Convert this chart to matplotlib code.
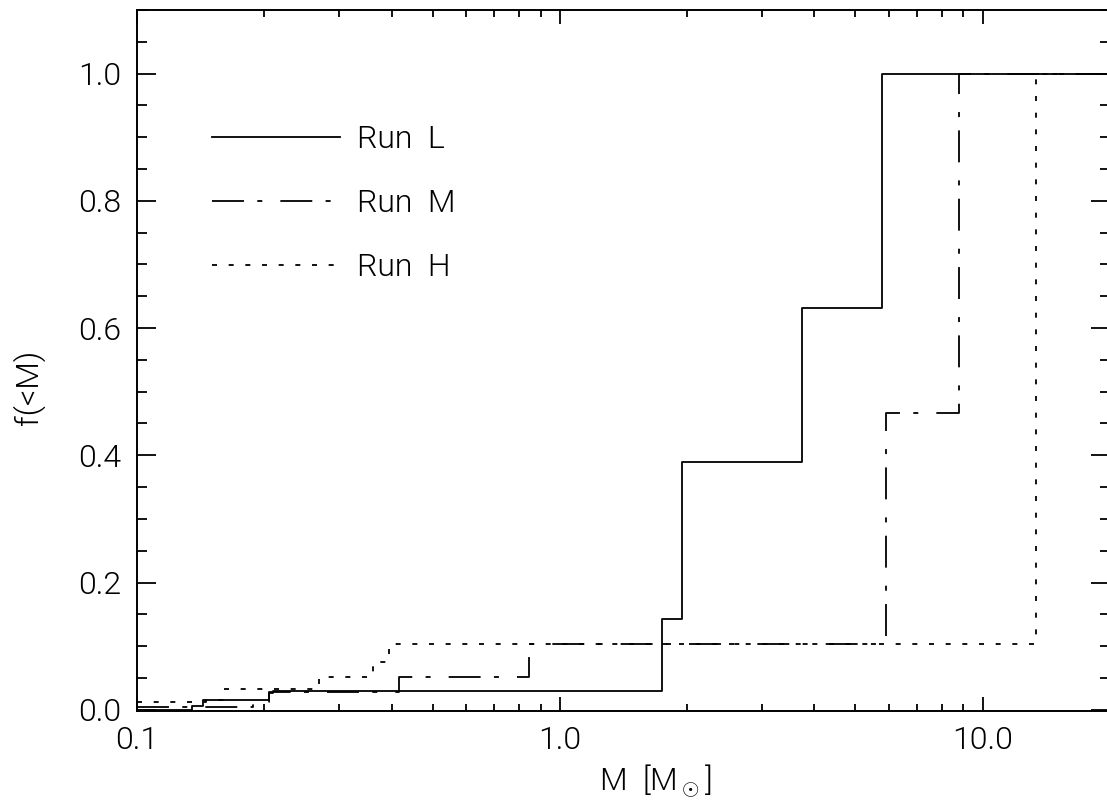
import matplotlib
matplotlib.use("Agg")
import matplotlib.pyplot as plt
from matplotlib.ticker import FixedLocator, MultipleLocator, NullFormatter

# ---- data ----
L_x = [0.1, 0.135, 0.143, 0.2055, 0.210, 1.74, 1.94, 3.73, 5.77, 20.0]
L_y = [0.0, 0.006, 0.016, 0.026, 0.030, 0.142, 0.390, 0.631, 1.0, 1.0]

M_x = [0.1, 0.188, 0.2055, 0.417, 0.846, 5.90, 8.79, 20.0]
M_y = [0.004, 0.0115, 0.028, 0.052, 0.104, 0.466, 1.0, 1.0]

H_x = [0.1, 0.146, 0.160, 0.269, 0.361, 0.395, 13.4, 20.0]
H_y = [0.0115, 0.016, 0.0325, 0.051, 0.0756, 0.103, 1.0, 1.0]

labels = ["Run  L", "Run  M", "Run  H"]
x_major = [0.1, 1.0, 10.0]
x_major_labels = ["0.1", "1.0", "10.0"]
y_major = [0.0, 0.2, 0.4, 0.6, 0.8, 1.0]
y_major_labels = ["0.0", "0.2", "0.4", "0.6", "0.8", "1.0"]

plt.rcParams['lines.scale_dashes'] = False
plt.rcParams['font.family'] = ['Roboto', 'DejaVu Sans']
plt.rcParams['font.weight'] = 300
plt.rcParams['axes.labelweight'] = 300
plt.rcParams['mathtext.fontset'] = 'custom'
plt.rcParams['mathtext.rm'] = 'Roboto:weight=300'
plt.rcParams['mathtext.it'] = 'Roboto:weight=300'

fig = plt.figure(figsize=(11.07, 8.02), dpi=100)
ax = fig.add_axes([137/1107, 91/802, 973/1107, 701/802])

lw = 1.3
ax.plot(L_x, L_y, drawstyle='steps-post', color='black', lw=lw, label=labels[0])
ax.plot(M_x, M_y, drawstyle='steps-post', color='black', lw=lw,
        dashes=(23, 9.6, 3.6, 13), label=labels[1])
ax.plot(H_x, H_y, drawstyle='steps-post', color='black', lw=lw,
        dashes=(3.6, 8.4), label=labels[2])

ax.set_xscale('log')
ax.set_xlim(0.1, 20.0)
ax.set_ylim(-0.002, 1.1)

ax.xaxis.set_major_locator(FixedLocator(x_major))
ax.set_xticklabels(x_major_labels)
minors = [m * d for d in (0.1, 1.0, 10.0) for m in range(2, 10)]
ax.xaxis.set_minor_locator(FixedLocator(minors))
ax.xaxis.set_minor_formatter(NullFormatter())

ax.yaxis.set_major_locator(FixedLocator(y_major))
ax.set_yticklabels(y_major_labels)
ax.yaxis.set_minor_locator(MultipleLocator(0.05))

fs = 23
ax.tick_params(axis='both', which='both', direction='in', top=True, right=True,
               width=1.3, labelsize=fs, colors='black')
ax.tick_params(axis='x', which='major', length=10, pad=11)
ax.tick_params(axis='x', which='minor', length=5)
ax.tick_params(axis='y', which='major', length=14, pad=11)
ax.tick_params(axis='y', which='minor', length=7)
for s in ax.spines.values():
    s.set_linewidth(1.4)

ax.set_xlabel(r'M  [M$_\odot$]', fontsize=fs)
ax.xaxis.set_label_coords(0.533, -0.073)
ax.set_ylabel('f(<M)', fontsize=fs)
ax.yaxis.set_label_coords(-0.095, 0.461)

leg = ax.legend(loc='upper left', bbox_to_anchor=(0.077, 0.836), frameon=False,
                fontsize=fs, handlelength=4.0, handletextpad=0.55,
                labelspacing=1.1, borderpad=0, borderaxespad=0)

fig.savefig('out.png', dpi=100)
